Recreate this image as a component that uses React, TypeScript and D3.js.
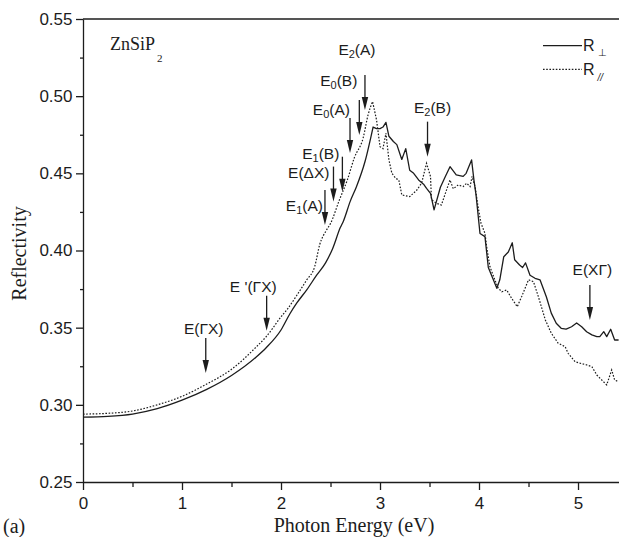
import React, { useEffect, useRef } from 'react';
import * as d3 from 'd3';

// R perpendicular (solid)
const energyPerp = [0, 0.25, 0.5, 0.75, 1.0, 1.25, 1.5, 1.75, 1.85, 2.0, 2.09, 2.16, 2.26, 2.36, 2.45, 2.52, 2.6, 2.63, 2.7, 2.76, 2.85, 2.93, 2.965, 3.0, 3.03, 3.06, 3.09, 3.135, 3.17, 3.22, 3.26, 3.3, 3.34, 3.39, 3.44, 3.47, 3.51, 3.546, 3.61, 3.66, 3.707, 3.77, 3.84, 3.87, 3.925, 3.95, 3.97, 4.01, 4.06, 4.094, 4.145, 4.18, 4.21, 4.25, 4.296, 4.336, 4.36, 4.41, 4.44, 4.47, 4.515, 4.566, 4.616, 4.68, 4.73, 4.78, 4.83, 4.88, 4.935, 4.986, 5.037, 5.087, 5.14, 5.19, 5.22, 5.26, 5.29, 5.33, 5.37, 5.41];
const reflPerp = [0.292, 0.2925, 0.294, 0.2975, 0.303, 0.31, 0.319, 0.331, 0.337, 0.3485, 0.359, 0.366, 0.3745, 0.384, 0.392, 0.401, 0.415, 0.419, 0.432, 0.441, 0.458, 0.48, 0.479, 0.479, 0.48, 0.483, 0.474, 0.4706, 0.4686, 0.459, 0.466, 0.452, 0.45, 0.4457, 0.443, 0.4403, 0.437, 0.4263, 0.441, 0.448, 0.4543, 0.449, 0.448, 0.45, 0.4587, 0.445, 0.436, 0.411, 0.409, 0.389, 0.381, 0.3755, 0.381, 0.396, 0.399, 0.405, 0.394, 0.3906, 0.389, 0.392, 0.384, 0.382, 0.381, 0.37, 0.3594, 0.3529, 0.3496, 0.349, 0.3506, 0.353, 0.3506, 0.3474, 0.3453, 0.3442, 0.3442, 0.3474, 0.3442, 0.349, 0.342, 0.342];

// R parallel (dotted)
const energyPar = [0, 0.25, 0.5, 0.75, 1.0, 1.25, 1.5, 1.75, 1.855, 2.0, 2.07, 2.16, 2.26, 2.34, 2.39, 2.46, 2.5, 2.59, 2.67, 2.74, 2.83, 2.88, 2.925, 2.965, 3.0, 3.03, 3.06, 3.09, 3.12, 3.16, 3.19, 3.22, 3.3, 3.37, 3.42, 3.47, 3.51, 3.52, 3.57, 3.62, 3.66, 3.707, 3.74, 3.79, 3.84, 3.875, 3.91, 3.93, 3.96, 3.99, 4.02, 4.06, 4.077, 4.11, 4.16, 4.195, 4.23, 4.28, 4.33, 4.386, 4.43, 4.5, 4.55, 4.6, 4.67, 4.73, 4.8, 4.87, 4.9, 4.97, 5.02, 5.09, 5.14, 5.19, 5.29, 5.34, 5.37, 5.41];
const reflPar = [0.294, 0.2945, 0.296, 0.3, 0.3055, 0.3135, 0.323, 0.3375, 0.3445, 0.357, 0.3625, 0.371, 0.381, 0.3895, 0.4036, 0.4133, 0.4175, 0.4328, 0.4457, 0.46, 0.473, 0.488, 0.4965, 0.4846, 0.4673, 0.466, 0.476, 0.4587, 0.45, 0.4467, 0.4457, 0.436, 0.4349, 0.439, 0.4436, 0.4565, 0.448, 0.433, 0.4306, 0.4295, 0.437, 0.4457, 0.44, 0.4425, 0.4414, 0.4436, 0.4414, 0.448, 0.4414, 0.4285, 0.4177, 0.4112, 0.4025, 0.3896, 0.381, 0.3755, 0.3733, 0.3744, 0.369, 0.3636, 0.37, 0.381, 0.3798, 0.37, 0.355, 0.3464, 0.3399, 0.3377, 0.3334, 0.328, 0.327, 0.3258, 0.3247, 0.3193, 0.3129, 0.3226, 0.3161, 0.315];

const xTicks = [0, 1, 2, 3, 4, 5];
const xMinorTicks = [0.5, 1.5, 2.5, 3.5, 4.5];
const yTicks = [0.25, 0.3, 0.35, 0.4, 0.45, 0.5, 0.55];
const yMinorTicks = [0.275, 0.325, 0.375, 0.425, 0.475, 0.525];

// critical point arrows
const arrowLabels = [
  { main: 'E', sub: '', rest: '(\u0393X)' },
  { main: "E '", sub: '', rest: '(\u0393X)' },
  { main: 'E', sub: '1', rest: '(A)' },
  { main: 'E', sub: '', rest: '(\u0394X)' },
  { main: 'E', sub: '1', rest: '(B)' },
  { main: 'E', sub: '0', rest: '(A)' },
  { main: 'E', sub: '0', rest: '(B)' },
  { main: 'E', sub: '2', rest: '(A)' },
  { main: 'E', sub: '2', rest: '(B)' },
  { main: 'E', sub: '', rest: '(X\u0393)' },
];
const arrowEnergy = [1.24, 1.855, 2.444, 2.53, 2.62, 2.697, 2.791, 2.848, 3.48, 5.12];
const arrowTip = [0.3206, 0.348, 0.4166, 0.4317, 0.4381, 0.4632, 0.4749, 0.4911, 0.4608, 0.355];

// label placement relative to the arrow top (px)
const labelLayout = [
  { anchor: 'middle', dx: -2, dy: -4 },
  { anchor: 'end', dx: 10, dy: -4 },
  { anchor: 'end', dx: -2, dy: 21 },
  { anchor: 'end', dx: -4, dy: 11.5 },
  { anchor: 'end', dx: -3, dy: 2.5 },
  { anchor: 'end', dx: 0, dy: -3 },
  { anchor: 'end', dx: -2, dy: -13.5 },
  { anchor: 'middle', dx: -8, dy: -20 },
  { anchor: 'middle', dx: 5, dy: -9 },
  { anchor: 'middle', dx: 2.5, dy: -10 },
];

const W = 619;
const H = 537;
const SANS = '"Liberation Sans", Arial, sans-serif';
const SERIF = '"Liberation Serif", "Times New Roman", serif';
const INK = '#1c1c1c';

export default function App() {
  const axesRef = useRef<SVGGElement>(null);

  const x = d3.scaleLinear().domain([0, 5.414]).range([83, 619]);
  const y = d3.scaleLinear().domain([0.25, 0.55]).range([482, 19]);

  const smooth = d3.line<[number, number]>()
    .x(d => x(d[0]))
    .y(d => y(d[1]))
    .curve(d3.curveMonotoneX);
  const jagged = d3.line<[number, number]>()
    .x(d => x(d[0]))
    .y(d => y(d[1]));

  // smooth rise up to the main peak, measured wiggles after it
  const spectrum = (es: number[], rs: number[], split: number) => {
    const pts = es.map((e, i) => [e, rs[i]] as [number, number]);
    const k = es.findIndex(e => e >= split);
    const a = smooth(pts.slice(0, k + 1)) || '';
    const b = (jagged(pts.slice(k)) || '').replace(/^M/, 'L');
    return a + b;
  };

  const perp = spectrum(energyPerp, reflPerp, 2.93);
  const par = spectrum(energyPar, reflPar, 2.925);

  useEffect(() => {
    const g = d3.select(axesRef.current);
    g.selectAll('*').remove();

    const bottom = g.append('g').attr('transform', `translate(0,${y(0.25)})`);
    bottom.call(d3.axisBottom(x).tickValues(xTicks).tickSize(8).tickPadding(7).tickSizeOuter(0).tickFormat(d3.format('d')) as any);
    const bottomMinor = g.append('g').attr('transform', `translate(0,${y(0.25)})`);
    bottomMinor.call(d3.axisBottom(x).tickValues(xMinorTicks).tickSize(5).tickSizeOuter(0).tickFormat(() => '') as any);
    bottomMinor.select('.domain').remove();

    const left = g.append('g').attr('transform', `translate(${x(0)},0)`);
    left.call(d3.axisLeft(y).tickValues(yTicks).tickSize(7).tickPadding(3.5).tickSizeOuter(0).tickFormat(d3.format('.2f')) as any);
    const leftMinor = g.append('g').attr('transform', `translate(${x(0)},0)`);
    leftMinor.call(d3.axisLeft(y).tickValues(yMinorTicks).tickSize(3).tickSizeOuter(0).tickFormat(() => '') as any);
    leftMinor.select('.domain').remove();

    g.append('line')
      .attr('x1', x(0)).attr('x2', W)
      .attr('y1', y(0.55)).attr('y2', y(0.55));

    g.selectAll('.domain, line').attr('stroke', INK).attr('stroke-width', 1.3);
    g.selectAll('text')
      .attr('font-family', SANS)
      .attr('font-size', 17)
      .attr('fill', INK);
  }, []);

  return (
    <svg width={W} height={H} style={{ position: 'absolute', left: 0, top: 0, background: '#fff' }}>
      <g ref={axesRef} />

      <path d={par} fill="none" stroke={INK} strokeWidth={1.2} strokeDasharray="1.6,1.6" />
      <path d={perp} fill="none" stroke={INK} strokeWidth={1.3} strokeLinejoin="round" />

      {arrowEnergy.map((e, i) => {
        const ax = x(e);
        const tip = y(arrowTip[i]);
        const top = tip - 35;
        const lab = arrowLabels[i];
        const lay = labelLayout[i];
        return (
          <g key={i}>
            <line x1={ax} x2={ax} y1={top} y2={tip - 10} stroke={INK} strokeWidth={1.3} />
            <path d={`M${ax - 3.2},${tip - 13}L${ax + 3.2},${tip - 13}L${ax},${tip}Z`} fill={INK} />
            <text x={ax + lay.dx} y={top + lay.dy} textAnchor={lay.anchor as any}
              fontFamily={SANS} fontSize={15.5} fill={INK}>
              {lab.main}
              {lab.sub ? <tspan fontSize={11} dy={3}>{lab.sub}</tspan> : null}
              <tspan dy={lab.sub ? -3 : 0}>{lab.rest}</tspan>
            </text>
          </g>
        );
      })}

      {/* legend */}
      <line x1={543} x2={582} y1={45.7} y2={45.7} stroke={INK} strokeWidth={1.3} />
      <line x1={543} x2={582} y1={69.3} y2={69.3} stroke={INK} strokeWidth={1.2} strokeDasharray="1.6,1.6" />
      <text x={583} y={51} fontFamily={SANS} fontSize={16} fill={INK}>
        R<tspan fontSize={10} dx={3} dy={5}>{'\u22A5'}</tspan>
      </text>
      <text x={583} y={74.5} fontFamily={SANS} fontSize={16} fill={INK}>
        R<tspan fontSize={10} dx={3} dy={6} fontStyle="italic">//</tspan>
      </text>

      <text x={110} y={50} fontFamily={SERIF} fontSize={18} fill={INK}>
        ZnSiP<tspan fontSize={11} dx={2} dy={11.5}>2</tspan>
      </text>

      <text transform="translate(26,253.5) rotate(-90)" textAnchor="middle"
        fontFamily={SERIF} fontSize={20} fill={INK}>Reflectivity</text>
      <text x={354} y={532} textAnchor="middle" fontFamily={SERIF} fontSize={20} fill={INK}>Photon Energy (eV)</text>
      <text x={3} y={533} fontFamily={SERIF} fontSize={20} fill={INK}>(a)</text>
    </svg>
  );
}
